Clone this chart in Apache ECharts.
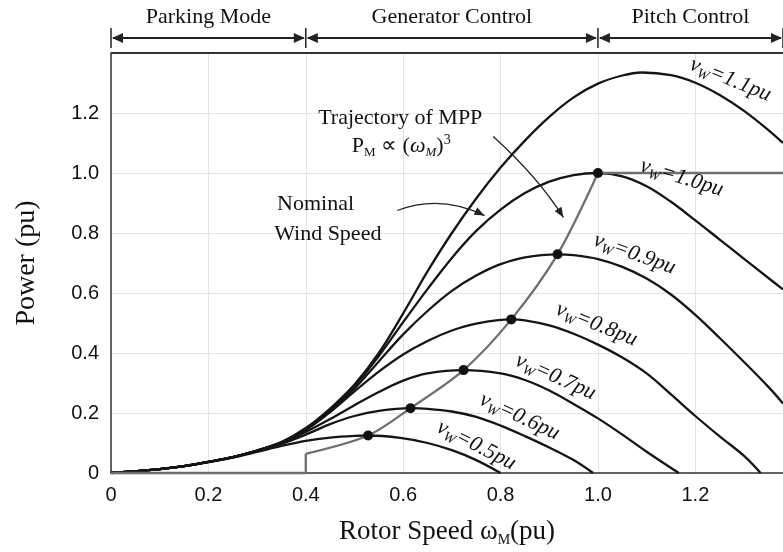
<!DOCTYPE html>
<html>
<head>
<meta charset="utf-8">
<script src="https://cdn.jsdelivr.net/npm/echarts@6.0.0/dist/echarts.min.js"></script>
<style>html,body{margin:0;padding:0;background:#fff}#c{width:783px;height:552px}</style>
</head>
<body>
<div id="c"></div>
<script>
// ---------- data ----------
const v05 = [[0,0],[0.05,0.006],[0.1,0.013],[0.15,0.023],[0.2,0.036],[0.25,0.051],[0.3,0.07],[0.35,0.09],[0.4,0.107],[0.45,0.118],[0.5,0.124],[0.528,0.125],[0.594,0.117],[0.65,0.1],[0.7,0.076],[0.75,0.043],[0.8,0]];
const v06 = [[0,0],[0.05,0.006],[0.1,0.013],[0.15,0.023],[0.2,0.037],[0.25,0.052],[0.3,0.073],[0.35,0.097],[0.4,0.128],[0.45,0.163],[0.5,0.19],[0.55,0.207],[0.615,0.216],[0.65,0.214],[0.7,0.205],[0.75,0.187],[0.8,0.158],[0.85,0.123],[0.9,0.085],[0.95,0.043],[0.99,0]];
const v07 = [[0,0],[0.05,0.006],[0.1,0.013],[0.15,0.023],[0.2,0.037],[0.25,0.053],[0.3,0.074],[0.35,0.1],[0.4,0.137],[0.45,0.18],[0.5,0.226],[0.55,0.27],[0.6,0.308],[0.65,0.332],[0.724,0.343],[0.8,0.332],[0.85,0.31],[0.9,0.275],[0.95,0.23],[1.0,0.182],[1.05,0.128],[1.1,0.071],[1.166,0]];
const v08 = [[0,0],[0.05,0.006],[0.1,0.013],[0.15,0.023],[0.2,0.037],[0.25,0.053],[0.3,0.075],[0.35,0.101],[0.4,0.143],[0.45,0.203],[0.5,0.272],[0.55,0.338],[0.6,0.395],[0.65,0.44],[0.7,0.475],[0.75,0.498],[0.822,0.512],[0.85,0.509],[0.9,0.492],[0.95,0.464],[1.0,0.428],[1.05,0.385],[1.1,0.332],[1.15,0.262],[1.2,0.19],[1.25,0.122],[1.3,0.057],[1.334,0]];
const v09 = [[0,0],[0.05,0.006],[0.1,0.013],[0.15,0.023],[0.2,0.037],[0.25,0.053],[0.3,0.075],[0.35,0.102],[0.4,0.146],[0.45,0.207],[0.5,0.282],[0.55,0.372],[0.6,0.462],[0.65,0.54],[0.7,0.607],[0.75,0.658],[0.8,0.696],[0.85,0.719],[0.917,0.729],[0.95,0.726],[1.0,0.713],[1.05,0.687],[1.1,0.648],[1.15,0.595],[1.2,0.527],[1.25,0.45],[1.3,0.37],[1.35,0.287],[1.38,0.232]];
const v10 = [[0,0],[0.05,0.006],[0.1,0.013],[0.15,0.023],[0.2,0.037],[0.25,0.053],[0.3,0.075],[0.35,0.102],[0.4,0.148],[0.45,0.21],[0.5,0.29],[0.55,0.39],[0.6,0.503],[0.65,0.613],[0.7,0.717],[0.75,0.807],[0.8,0.878],[0.85,0.933],[0.9,0.971],[0.95,0.993],[1.0,1.0],[1.05,0.989],[1.1,0.956],[1.15,0.904],[1.2,0.842],[1.25,0.778],[1.3,0.714],[1.35,0.65],[1.38,0.612]];
const v11 = [[0,0],[0.05,0.006],[0.1,0.013],[0.15,0.023],[0.2,0.037],[0.25,0.053],[0.3,0.075],[0.35,0.103],[0.4,0.15],[0.45,0.215],[0.5,0.295],[0.55,0.4],[0.6,0.532],[0.65,0.672],[0.7,0.8],[0.75,0.915],[0.8,1.018],[0.85,1.108],[0.9,1.187],[0.95,1.252],[1.0,1.298],[1.05,1.325],[1.09,1.335],[1.15,1.326],[1.2,1.301],[1.25,1.26],[1.3,1.207],[1.35,1.143],[1.38,1.1]];

const windSpeeds = ['0.5','0.6','0.7','0.8','0.9','1.0','1.1'];
const mppOmega = [0.528, 0.615, 0.724, 0.822, 0.917, 1.0];
const mppPower = [0.125, 0.216, 0.343, 0.512, 0.729, 1.0];
const parkingPath = [[0,0],[0.4,0],[0.4,0.064]];
const pitchPath = [[1.0,1.0],[1.38,1.0]];

const bandEdges = [0, 0.4, 1.0, 1.38];
const bandNames = ['Parking Mode', 'Generator Control', 'Pitch Control'];

const xTicks = [0, 0.2, 0.4, 0.6, 0.8, 1.0, 1.2];
const yTicks = [0, 0.2, 0.4, 0.6, 0.8, 1.0, 1.2];

// ---------- layout (not data) ----------
const curveLabelLayout = [ // [omega, power, rotation] anchors for the v_w labels
  [0.75, 0.092, -27], [0.839, 0.188, -25], [0.913, 0.32, -24], [0.997, 0.495, -22],
  [1.075, 0.73, -20], [1.172, 0.984, -17], [1.272, 1.311, -22]
];

const SERIF = '"Liberation Serif","Times New Roman",serif';
const SANS = '"Liberation Sans",Arial,sans-serif';
const INK = '#111';

const chart = echarts.init(document.getElementById('c'));
const curves = [v05, v06, v07, v08, v09, v10, v11];

const series = [];
curves.forEach((d, i) => {
  series.push({
    type: 'line', name: 'v' + windSpeeds[i], data: d, smooth: 0.35, showSymbol: false,
    lineStyle: { color: '#151515', width: 2.3 }, z: 2, silent: true
  });
});
series.push({ type: 'line', data: parkingPath, showSymbol: false, clip: false, lineStyle: { color: '#6f6f6f', width: 2.3 }, z: 3 });
series.push({ type: 'line', data: [[0.4, 0.064]].concat(mppOmega.map((w, i) => [w, mppPower[i]])), smooth: 0.3, showSymbol: false, lineStyle: { color: '#6f6f6f', width: 2.3 }, z: 3 });
series.push({ type: 'line', data: pitchPath, showSymbol: false, lineStyle: { color: '#6f6f6f', width: 2.3 }, z: 3 });
series.push({ type: 'scatter', data: mppOmega.map((w, i) => [w, mppPower[i]]), symbolSize: 10, itemStyle: { color: '#111', opacity: 1 }, z: 5 });
series.push({
  type: 'scatter', symbolSize: 0, z: 6, silent: true,
  itemStyle: { opacity: 1, color: INK },
  data: curveLabelLayout.map((a, i) => ({
    value: [a[0], a[1]],
    label: {
      show: true, position: 'inside', rotate: a[2],
      formatter: '{v|v}{w|W}{t|=' + windSpeeds[i] + 'pu}'
    }
  })),
  label: {
    color: INK, opacity: 1,
    rich: {
      v: { fontFamily: SERIF, fontStyle: 'italic', fontSize: 22, lineHeight: 26, verticalAlign: 'middle', color: INK },
      w: { fontFamily: SERIF, fontStyle: 'italic', fontSize: 14, lineHeight: 12, verticalAlign: 'bottom', color: INK },
      t: { fontFamily: SERIF, fontStyle: 'italic', fontSize: 22, lineHeight: 26, verticalAlign: 'middle', color: INK }
    }
  }
});

const fmt = v => (v === 0 ? '0' : v.toFixed(1));

chart.setOption({
  animation: false,
  backgroundColor: '#fff',
  grid: { left: 111, right: 0, top: 53, bottom: 75, containLabel: false },
  xAxis: {
    type: 'value', min: 0, max: 1.38, interval: 0.2,
    axisLine: { show: true, lineStyle: { color: '#333', width: 1.5 } },
    axisTick: { show: false },
    splitLine: { show: true, lineStyle: { color: '#e4e4e4', width: 1 } },
    axisLabel: { showMaxLabel: false, fontFamily: SANS, fontSize: 20, color: INK, margin: 12,
      formatter: v => (xTicks.some(t => Math.abs(t - v) < 1e-6) ? fmt(v) : '') },
    name: '{a|Rotor Speed ω}{s|M}{a|(pu)}', nameLocation: 'middle', nameGap: 44,
    nameTextStyle: { rich: {
      a: { fontFamily: SERIF, fontSize: 27, lineHeight: 30, verticalAlign: 'middle', color: INK },
      s: { fontFamily: SERIF, fontSize: 14, lineHeight: 14, verticalAlign: 'bottom', color: INK }
    } }
  },
  yAxis: {
    type: 'value', min: 0, max: 1.4, interval: 0.2,
    axisLine: { show: true, lineStyle: { color: '#333', width: 1.5 } },
    axisTick: { show: false },
    splitLine: { show: true, lineStyle: { color: '#e4e4e4', width: 1 } },
    axisLabel: { showMaxLabel: false, fontFamily: SANS, fontSize: 20, color: INK, margin: 12,
      formatter: v => (yTicks.some(t => Math.abs(t - v) < 1e-6) ? fmt(v) : '') },
    name: 'Power (pu)', nameLocation: 'middle', nameGap: 70,
    nameTextStyle: { fontFamily: SERIF, fontSize: 28, color: INK }
  },
  series: series
});

// ---------- annotations positioned through the chart's own scales ----------
function px(p) { return chart.convertToPixel({ gridIndex: 0 }, p); }
function arrowHead(tip, from, L, W) {
  const dx = tip[0] - from[0], dy = tip[1] - from[1];
  const n = Math.hypot(dx, dy); const ux = dx / n, uy = dy / n;
  const bx = tip[0] - ux * L, by = tip[1] - uy * L;
  return [[tip[0], tip[1]], [bx - uy * W, by + ux * W], [bx + uy * W, by - ux * W]];
}

const g = [];
const gridTop = px([0, 1.4])[1];
const gridRight = px([1.38, 0])[0];
g.push({ type: 'line', shape: { x1: px([0, 0])[0], y1: gridTop, x2: gridRight, y2: gridTop }, style: { stroke: '#333', lineWidth: 2 }, z: 10 });

// band of operating modes
const bandY = 38, barTop = 28, barBot = 48;
bandEdges.forEach(e => {
  const x = px([e, 0])[0];
  g.push({ type: 'line', shape: { x1: x, y1: barTop, x2: x, y2: barBot }, style: { stroke: '#222', lineWidth: 1.5 }, z: 10 });
});
for (let i = 0; i < bandNames.length; i++) {
  const xa = px([bandEdges[i], 0])[0], xb = px([bandEdges[i + 1], 0])[0];
  g.push({ type: 'line', shape: { x1: xa + 2, y1: bandY, x2: xb - 2, y2: bandY }, style: { stroke: '#222', lineWidth: 1.8 }, z: 10 });
  g.push({ type: 'polygon', shape: { points: arrowHead([xa + 1, bandY], [xa + 20, bandY], 11, 5) }, style: { fill: '#222' }, z: 10 });
  g.push({ type: 'polygon', shape: { points: arrowHead([xb - 1, bandY], [xb - 20, bandY], 11, 5) }, style: { fill: '#222' }, z: 10 });
  g.push({ type: 'text', x: (xa + Math.min(xb, 783)) / 2, y: 17,
    style: { text: bandNames[i], font: '22px ' + SERIF, fill: INK, align: 'center', verticalAlign: 'middle' }, z: 10 });
}

// text annotations
const tTraj = px([0.594, 1.182]);
g.push({ type: 'text', x: tTraj[0], y: tTraj[1], style: { text: 'Trajectory of MPP', font: '22px ' + SERIF, fill: INK, align: 'center', verticalAlign: 'middle' }, z: 10 });
const tEq = px([0.596, 1.09]);
g.push({ type: 'text', x: tEq[0], y: tEq[1], z: 10, style: {
  text: '{a|P}{s|M}{a| ∝ (}{i|ω}{si|M}{a|)}{p|3}', align: 'center', verticalAlign: 'middle',
  rich: {
    a: { fontFamily: SERIF, fontSize: 22, lineHeight: 26, verticalAlign: 'middle', fill: INK },
    i: { fontFamily: SERIF, fontStyle: 'italic', fontSize: 22, lineHeight: 26, verticalAlign: 'middle', fill: INK },
    s: { fontFamily: SERIF, fontSize: 13, lineHeight: 12, verticalAlign: 'bottom', fill: INK },
    si: { fontFamily: SERIF, fontStyle: 'italic', fontSize: 13, lineHeight: 12, verticalAlign: 'bottom', fill: INK },
    p: { fontFamily: SERIF, fontSize: 14, lineHeight: 12, verticalAlign: 'top', fill: INK }
  } } });
const tNom = px([0.341, 0.895]);
g.push({ type: 'text', x: tNom[0], y: tNom[1], style: { text: 'Nominal', font: '22px ' + SERIF, fill: INK, align: 'left', verticalAlign: 'middle' }, z: 10 });
const tWind = px([0.335, 0.796]);
g.push({ type: 'text', x: tWind[0], y: tWind[1], style: { text: 'Wind Speed', font: '22px ' + SERIF, fill: INK, align: 'left', verticalAlign: 'middle' }, z: 10 });

// curved arrows
function curvedArrow(s, c, e) {
  const S = px(s), C = px(c), E = px(e);
  g.push({ type: 'bezierCurve', shape: { x1: S[0], y1: S[1], cpx1: C[0], cpy1: C[1], x2: E[0], y2: E[1] }, style: { stroke: '#222', lineWidth: 1.3, fill: null }, z: 10 });
  g.push({ type: 'polygon', shape: { points: arrowHead(E, C, 10, 4) }, style: { fill: '#222' }, z: 10 });
}
curvedArrow([0.588, 0.875], [0.676, 0.93], [0.767, 0.858]);
curvedArrow([0.785, 1.122], [0.878, 0.985], [0.929, 0.852]);

chart.setOption({ graphic: g });
</script>
</body>
</html>
